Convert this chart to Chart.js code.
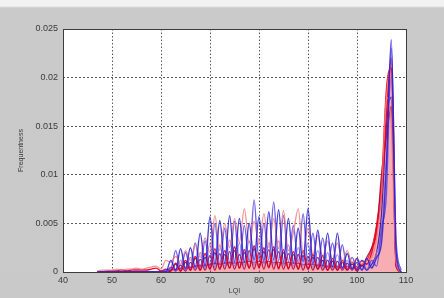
<!DOCTYPE html>
<html>
<head>
<meta charset="utf-8">
<script src="https://cdn.jsdelivr.net/npm/chart.js@4/dist/chart.umd.min.js"></script>
<style>
html,body{margin:0;padding:0;}
body{width:444px;height:298px;overflow:hidden;background:linear-gradient(to bottom,#f2f2f2 0px,#f2f2f2 6px,#cacaca 8px,#c9c9c9 100%);}
#wrap{position:absolute;left:0;top:0;width:444px;height:298px;}
</style>
</head>
<body>
<div id="wrap"><canvas id="c" width="444" height="298"></canvas></div>
<script>
// LQI values (x positions of histogram bins)
const lqi = [47,48,49,50,51,52,53,54,55,56,57,58,59,60,61,62,63,64,65,66,67,68,69,70,71,72,73,74,75,76,77,78,79,80,81,82,83,84,85,86,87,88,89,90,91,92,93,94,95,96,97,98,99,100,101,102,103,104,105,106,107,108,109];

const xTickLabels = ['40','50','60','70','80','90','100','110'];
const yTickLabels = ['0','0.005','0.01','0.015','0.02','0.025'];

// blue runs
const blue1 = [0,0,0,0,0,0,0,0,0,0,
  0,0,0,0,0,0.0012,0.0002,0.0024,0.0003,0.0025,
  0.0005,0.0040,0.0006,0.0057,0.0008,0.0053,0.0009,0.0058,0.0010,0.0055,
  0.0010,0.0050,0.0012,0.0057,0.0011,0.0062,0.0012,0.0064,0.0010,0.0055,
  0.0009,0.0045,0.0010,0.0065,0.0008,0.0043,0.0006,0.0040,0.0005,0.0040,
  0.0004,0.0019,0.0003,0.0014,0.0002,0.0014,0.0004,0.0015,0.0030,0.0110,
  0.0239,0.0020,0];
const blue2 = [0,0,0,0,0,0,0,0,0,0,
  0,0,0,0,0.0002,0.0003,0.0022,0.0003,0.0020,0.0004,
  0.0030,0.0005,0.0032,0.0006,0.0050,0.0008,0.0045,0.0009,0.0052,0.0010,
  0.0048,0.0011,0.0074,0.0012,0.0050,0.0012,0.0072,0.0011,0.0058,0.0010,
  0.0048,0.0009,0.0060,0.0008,0.0040,0.0006,0.0035,0.0005,0.0030,0.0004,
  0.0028,0.0003,0.0015,0.0003,0.0012,0.0002,0.0012,0.0006,0.0045,0.0080,
  0.0230,0.0030,0.0002];
const blue3 = [0,0,0,0,0,0,0,0,0,0,
  0,0,0,0,0,0.0004,0.0001,0.0012,0.0002,0.0015,
  0.0003,0.0020,0.0004,0.0030,0.0005,0.0028,0.0006,0.0033,0.0006,0.0030,
  0.0007,0.0032,0.0007,0.0035,0.0008,0.0030,0.0008,0.0032,0.0007,0.0028,
  0.0006,0.0025,0.0006,0.0030,0.0005,0.0022,0.0004,0.0020,0.0004,0.0018,
  0.0003,0.0012,0.0003,0.0010,0.0002,0.0009,0.0005,0.0020,0.0040,0.0120,
  0.0200,0.0010,0];
const blue4 = [0,0,0,0,0,0,0,0,0,0,
  0,0,0,0,0,0.0001,0.0008,0.0001,0.0010,0.0002,
  0.0014,0.0002,0.0015,0.0003,0.0020,0.0003,0.0018,0.0004,0.0022,0.0004,
  0.0020,0.0004,0.0024,0.0005,0.0021,0.0005,0.0023,0.0004,0.0020,0.0004,
  0.0018,0.0003,0.0017,0.0003,0.0015,0.0003,0.0012,0.0002,0.0011,0.0002,
  0.0010,0.0002,0.0008,0.0001,0.0007,0.0002,0.0008,0.0020,0.0060,0.0150,
  0.0180,0.0006,0];

// red runs
const red1 = [0.0001,0.0002,0.0002,0.0002,0.0003,0.0002,0.0003,0.0003,0.0004,0.0003,
  0.0004,0.0005,0.0006,0.0003,0.0012,0.0010,0.0016,0.0008,0.0022,0.0012,
  0.0028,0.0015,0.0035,0.0020,0.0058,0.0022,0.0050,0.0025,0.0055,0.0030,
  0.0065,0.0030,0.0052,0.0028,0.0060,0.0025,0.0055,0.0024,0.0063,0.0022,
  0.0040,0.0065,0.0020,0.0045,0.0018,0.0038,0.0015,0.0032,0.0012,0.0030,
  0.0010,0.0022,0.0009,0.0014,0.0008,0.0012,0.0015,0.0035,0.0080,0.0180,
  0.0150,0.0010,0];
const red2 = [0,0,0.0001,0.0001,0.0001,0.0002,0.0001,0.0002,0.0002,0.0002,
  0.0002,0.0003,0.0004,0.0001,0.0003,0.0001,0.0009,0.0001,0.0012,0.0002,
  0.0016,0.0002,0.0019,0.0003,0.0024,0.0003,0.0022,0.0004,0.0026,0.0004,
  0.0023,0.0004,0.0027,0.0004,0.0025,0.0004,0.0026,0.0003,0.0023,0.0003,
  0.0021,0.0003,0.0022,0.0003,0.0018,0.0003,0.0017,0.0002,0.0014,0.0002,
  0.0012,0.0002,0.0010,0.0002,0.0012,0.0008,0.0020,0.0045,0.0080,0.0160,
  0.0220,0.0010,0];
const red3 = [0,0,0,0,0,0,0,0,0,0,
  0,0,0,0,0,0.0005,0.0001,0.0007,0.0001,0.0010,
  0.0002,0.0013,0.0002,0.0017,0.0002,0.0019,0.0003,0.0021,0.0003,0.0018,
  0.0003,0.0022,0.0003,0.0020,0.0003,0.0023,0.0003,0.0021,0.0003,0.0019,
  0.0003,0.0018,0.0002,0.0016,0.0002,0.0015,0.0002,0.0012,0.0002,0.0011,
  0.0002,0.0009,0.0002,0.0010,0.0006,0.0015,0.0025,0.0040,0.0100,0.0140,
  0.0170,0.0005,0];
const red4 = [0,0,0,0,0,0,0,0,0,0,
  0,0,0,0,0,0.0002,0.0003,0.0004,0.0005,0.0005,
  0.0006,0.0007,0.0007,0.0008,0.0009,0.0008,0.0009,0.0010,0.0009,0.0010,
  0.0010,0.0011,0.0010,0.0011,0.0010,0.0011,0.0010,0.0010,0.0009,0.0010,
  0.0009,0.0009,0.0008,0.0008,0.0008,0.0007,0.0007,0.0006,0.0006,0.0006,
  0.0005,0.0006,0.0005,0.0006,0.0008,0.0012,0.0025,0.0050,0.0095,0.0190,
  0.0210,0.0008,0];

function pts(arr){ return lqi.map((x,i)=>({x:x,y:arr[i]})); }

function ds(arr, color, width, order, fill, bg){
  return {data: pts(arr), borderColor: color, borderWidth: width, pointRadius: 0,
    tension: 0.35, cubicInterpolationMode: 'monotone', fill: fill||false,
    backgroundColor: bg||'transparent', order: order};
}

const plotBox = {
  id: 'plotBox',
  beforeDraw(chart){
    const a = chart.chartArea, ctx = chart.ctx;
    ctx.save(); ctx.fillStyle = '#ffffff';
    ctx.fillRect(a.left, a.top, a.right-a.left, a.bottom-a.top);
    ctx.restore();
  },
  afterDraw(chart){
    const a = chart.chartArea, ctx = chart.ctx;
    ctx.save(); ctx.strokeStyle = '#3c3c3c'; ctx.lineWidth = 1;
    ctx.strokeRect(Math.round(a.left)+0.5, Math.round(a.top)+0.5, Math.round(a.right-a.left), Math.round(a.bottom-a.top));
    ctx.restore();
  }
};

new Chart(document.getElementById('c'), {
  type: 'line',
  data: { datasets: [
    ds(blue1, 'rgba(40,30,210,0.85)', 1.4, 1),
    ds(red1, 'rgba(240,120,120,0.8)', 1.3, 2),
    ds(blue2, 'rgba(80,60,225,0.8)', 1.4, 3),
    ds(red2, 'rgba(235,0,25,0.95)', 1.4, 4),
    ds(blue3, 'rgba(130,110,235,0.75)', 1.2, 5),
    ds(red3, 'rgba(170,0,60,0.85)', 1.3, 6),
    ds(blue4, 'rgba(60,20,150,0.9)', 1.2, 7),
    ds(red4, 'rgba(230,0,20,0.9)', 1.0, 8, 'origin', 'rgba(235,20,40,0.35)')
  ]},
  options: {
    responsive: false, animation: false,
    devicePixelRatio: 1,
    layout: { padding: { left: 0, top: 29, right: 38, bottom: 0 } },
    plugins: { legend: {display:false}, tooltip: {enabled:false} },
    scales: {
      x: {
        type: 'linear', min: 40, max: 110,
        afterFit: s => { s.height = 26; },
        ticks: { stepSize: 10, autoSkip: false, maxRotation: 0, padding: 3,
          color: '#3a3a3a', font: {family: 'Liberation Sans, Arial', size: 9},
          callback: (v, i) => xTickLabels[i] },
        grid: { color: 'rgba(60,60,60,0.85)', lineWidth: 1, drawTicks: false },
        border: { display: false, dash: [1.5, 2] },
        title: { display: true, text: 'LQI', color: '#3a3a3a', padding: {top: 0, bottom: 3},
          font: {family: 'Liberation Sans, Arial', size: 7} }
      },
      y: {
        type: 'linear', min: 0, max: 0.025,
        afterFit: s => { s.width = 63; },
        ticks: { stepSize: 0.005, padding: 5, color: '#3a3a3a',
          font: {family: 'Liberation Sans, Arial', size: 9},
          callback: (v, i) => yTickLabels[i] },
        grid: { color: 'rgba(60,60,60,0.85)', lineWidth: 1, drawTicks: false },
        border: { display: false, dash: [2, 2] },
        title: { display: true, text: 'Frequentness', color: '#3a3a3a', padding: {top: 17, bottom: 0},
          font: {family: 'Liberation Sans, Arial', size: 7} }
      }
    }
  },
  plugins: [plotBox]
});
</script>
</body>
</html>
